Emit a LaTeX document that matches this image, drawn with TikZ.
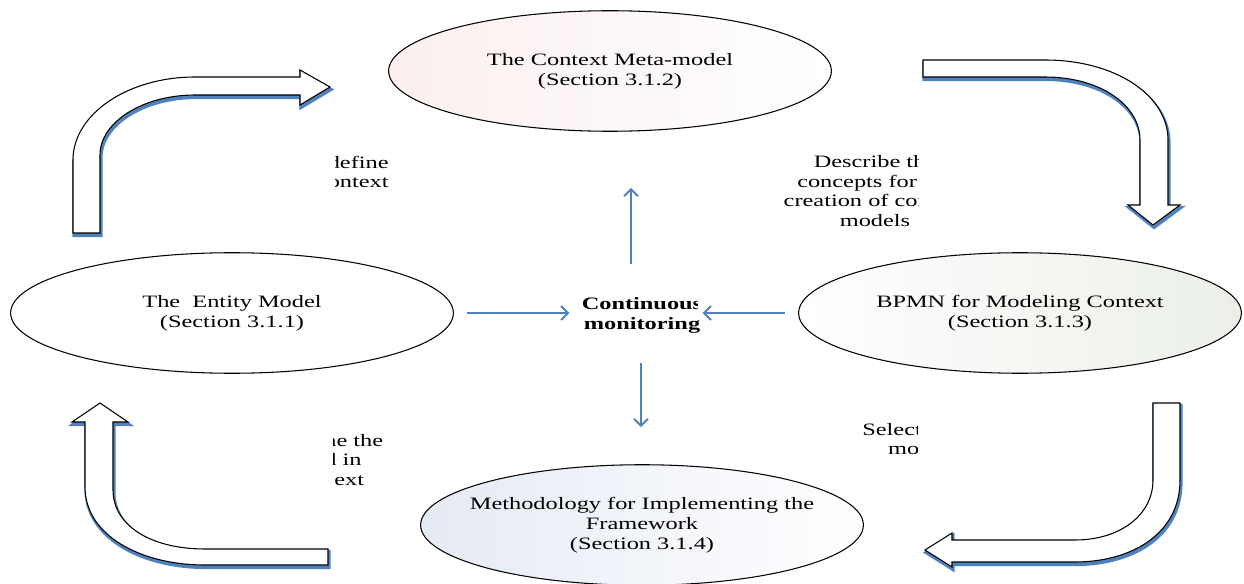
\documentclass[tikz,border=0pt]{standalone}
\usepackage{fontspec}
\setmainfont[FakeStretch=1.4]{Liberation Serif}
\usetikzlibrary{arrows.meta}
\usetikzlibrary{calc}
\usetikzlibrary{shapes.geometric}
\definecolor{arrowblue}{RGB}{79,129,189}
\definecolor{pinkish}{RGB}{251,239,239}
\definecolor{bluish}{RGB}{229,234,244}
\definecolor{greenish}{RGB}{235,239,232}
\tikzset{stage/.style={ellipse,
                       draw,
                       line width=0.6pt,
                       inner sep=0pt,
                       minimum width=252pt,
                       minimum height=68.6pt,
                       align=center}}
\tikzset{flow/.style={draw=arrowblue,
                      line width=1.1pt,
                      -{Straight Barb[length=4pt,width=8pt]}}}
\tikzset{bigarrow/.style={draw=black,
                          line width=0.6pt,
                          fill=white,
                          preaction={draw=arrowblue, fill=arrowblue, line width=1.8pt,
                                     transform canvas={shift={(1,2.5)}}}}}

\begin{document}
\begin{tikzpicture}
    [
      x=0.02cm, y=-0.02cm,
      font=\fontsize{9.9}{11.3}\selectfont,
      note/.style = {inner sep=0pt},
    ]
    \useasboundingbox (0,0) rectangle (1244,584);

    % stages
    \node [stage, left color=pinkish, right color=white] (context) at (610,71) {The Context Meta-model\\(Section 3.1.2)};
    \node [stage, fill=white] (entity) at (232,313) {The\ \ Entity Model\\(Section 3.1.1)};
    \node [stage, left color=white, right color=greenish] (bpmn) at (1020,313) {BPMN for Modeling Context\\(Section 3.1.3)};
    \node [stage, inner xsep=-9pt, left color=bluish, right color=white] (method) at (642,525) {Methodology for Implementing the\\Framework\\(Section 3.1.4)};

    % centre
    \begin{scope}
      \clip (560,285) -- (697,285) -- (697,314) -- (706,314) -- (706,345) -- (560,345) -- cycle;
      \node [note, align=center, font=\fontsize{9.9}{11.3}\selectfont\bfseries] (monitor) at (642,315) {Continuous\\monitoring};
    \end{scope}

    % notes beside the big arrows
    \begin{scope}
      \clip (335,140) rectangle (420,200);
      \node [note, align=right, anchor=east] (definenote) at (389,172) {define\\context};
    \end{scope}
    \begin{scope}
      \clip (760,145) rectangle (918,235);
      \node [note, align=center] (describenote) at (875,191) {Describe the\\concepts for the\\creation of context\\models};
    \end{scope}
    \begin{scope}
      \clip (333,420) rectangle (420,495);
      \node [note, align=left, anchor=west] (usenote) at (324,460) {ne the\\d in\\\hspace*{5.7pt}ext};
    \end{scope}
    \begin{scope}
      \clip (840,415) rectangle (917,462);
      \node [note, align=left, anchor=west] (selectnote) at (862,439) {Select\\\hspace*{14.7pt}mo};
    \end{scope}

    % big arrows round the cycle
    \path [bigarrow] (73,233) -- (73,160) .. controls (73,114) and (128,77) .. (195,77) -- (300,77) -- (300,70) -- (330,87)
                     -- (300,105) -- (300,95) -- (195,95) .. controls (143,95) and (100,122) .. (100,155) -- (100,233) -- cycle;
    \path [bigarrow] (923,60) -- (1045,60) .. controls (1115,60) and (1168,95) .. (1168,140) -- (1168,205) -- (1180,205) -- (1153,225)
                     -- (1128,205) -- (1140,205) -- (1140,140) .. controls (1140,105) and (1100,77) .. (1045,77) -- (923,77) -- cycle;
    \path [bigarrow] (1153,403) -- (1180,403) -- (1180,480) .. controls (1180,535) and (1130,562) .. (1075,562) -- (952,562) -- (952,567)
                     -- (925,550) -- (952,533) -- (952,540) -- (1075,540) .. controls (1120,540) and (1153,515) .. (1153,480) -- cycle;
    \path [bigarrow] (328,549) -- (205,549) .. controls (150,549) and (113,525) .. (113,490) -- (113,422) -- (128,422) -- (100,403)
                     -- (72,422) -- (85,422) -- (85,487) .. controls (85,535) and (140,565) .. (205,565) -- (328,565) -- cycle;

    % flows to and from the monitoring
    \draw [flow] ($(entity.east)+(13,0)$) -- ($(entity.east -| monitor.west)+(-12,0)$);
    \draw [flow] ($(bpmn.west)+(-13,0)$) -- (bpmn.west -| monitor.east);
    \draw [flow] ($(monitor.north)+(-11,-33)$) -- ($(context.south)+(21,56)$);
    \draw [flow] ($(monitor.south)+(-1,30)$) -- ($(method.north)+(-1,-37)$);

  \end{tikzpicture}
\end{document}
